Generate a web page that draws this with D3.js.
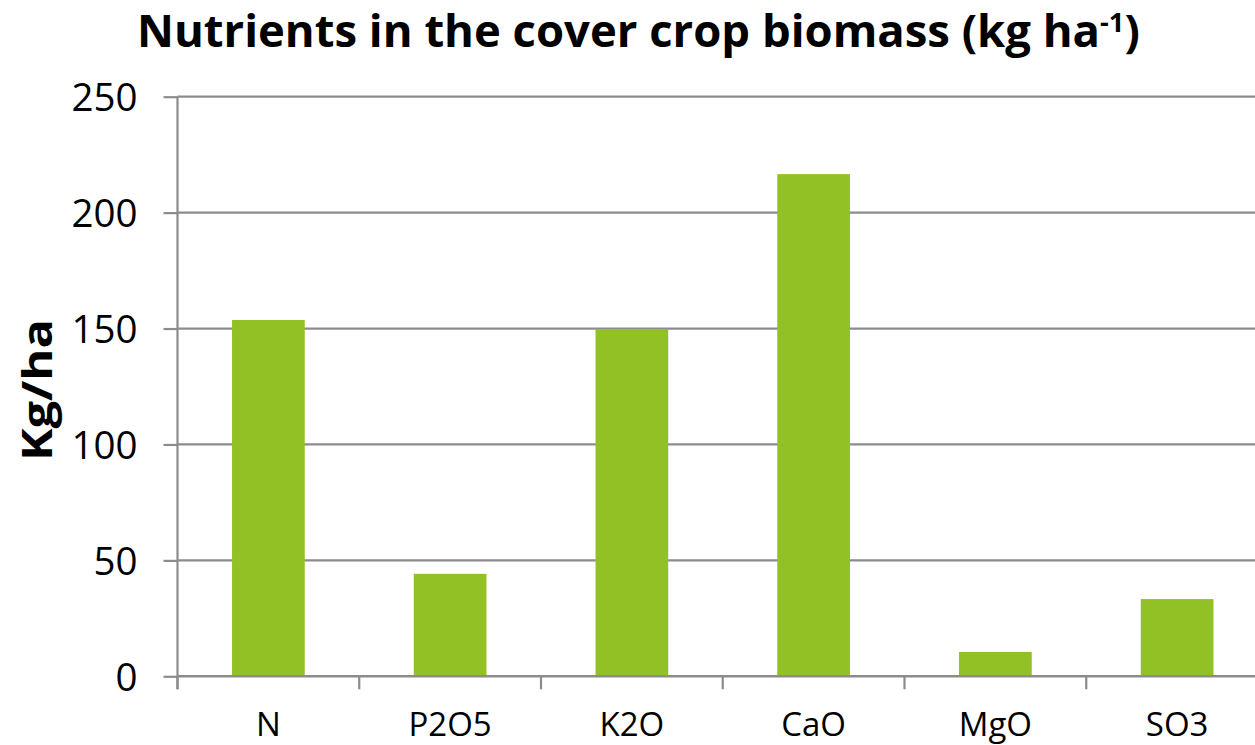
<!DOCTYPE html>
<html><head><meta charset="utf-8">
<script src="https://cdn.jsdelivr.net/npm/d3@7/dist/d3.min.js"></script>
<style>body{margin:0;background:#fff;overflow:hidden}svg{display:block}</style>
</head><body>
<svg id="c" width="1255" height="745"></svg>
<script>
const categories = ["N","P2O5","K2O","CaO","MgO","SO3"];
const values = [153.7, 44.2, 149.8, 216.6, 10.5, 33.3];
const yTicks = [0,50,100,150,200,250];
const titleParts = ["Nutrients in the cover crop biomass (kg ha", "-1", ")"];
const yTitle = "Kg/ha";

const svg = d3.select("#c");
const pLeft = 177.5, pRight = 1268, pTop = 96.7, pBottom = 676.3;
const font = "'Open Sans', 'Noto Sans', sans-serif";
const gridColor = "#8c8c8c";

const x = d3.scaleBand().domain(categories).range([pLeft, pRight]).paddingInner(0.6).paddingOuter(0.3);
const xb = d3.scaleBand().domain(categories).range([pLeft, pRight]).padding(0);
const y = d3.scaleLinear().domain([0,250]).range([pBottom, pTop]);

// gridlines
svg.append("g").selectAll("line").data(yTicks.filter(d=>d>0)).join("line")
  .attr("x1", pLeft).attr("x2", 1255).attr("y1", d=>y(d)).attr("y2", d=>y(d))
  .attr("stroke", gridColor).attr("stroke-width", 2.2);

// bars
svg.append("g").selectAll("rect").data(values).join("rect")
  .attr("x", (d,i)=>x(categories[i])).attr("width", x.bandwidth())
  .attr("y", d=>y(d)).attr("height", d=>pBottom - y(d))
  .attr("fill", "#92c126");

// y axis
const yAxis = d3.axisLeft(y).tickValues(yTicks).tickSize(14).tickPadding(26).tickFormat(d3.format("d"));
const ya = svg.append("g").attr("transform", `translate(${pLeft},0)`).call(yAxis);
ya.select(".domain").remove();
ya.append("line").attr("x1",0).attr("x2",0).attr("y1",pTop).attr("y2",pBottom+13).attr("stroke",gridColor).attr("stroke-width",2.2);
ya.selectAll(".tick line").attr("stroke", gridColor).attr("stroke-width", 2.2);
ya.selectAll(".tick text").attr("font-family", font).attr("font-size", 38.5).attr("fill","#000").attr("dy","0.36em");

// x axis
const xa = svg.append("g").attr("transform", `translate(0,${pBottom})`);
xa.append("line").attr("x1", pLeft).attr("x2", 1255).attr("y1",0).attr("y2",0).attr("stroke",gridColor).attr("stroke-width",2.4);
const bounds = categories.map(c=>xb(c)).concat([xb(categories[categories.length-1])+xb.bandwidth()]).filter(v=>v<=1255);
xa.selectAll("line.t").data(bounds).join("line").attr("class","t")
  .attr("x1",d=>d).attr("x2",d=>d).attr("y1",0).attr("y2",13).attr("stroke",gridColor).attr("stroke-width",2.2);
xa.selectAll("text").data(categories).join("text")
  .attr("x", d=>x(d)+x.bandwidth()/2).attr("y", 60)
  .attr("text-anchor","middle").attr("font-family", font).attr("font-size", 33).attr("fill","#000").text(d=>d);

// title: three separate texts (main, superscript, closing paren), sized to the reference width
const baseY = 47;
const tg = svg.append("g");
const mk = (txt, size) => tg.append("text").attr("y", baseY).attr("font-family", font)
  .attr("font-weight","bold").attr("font-size", size).attr("fill","#000").text(txt);
const tMain = mk(titleParts[0], 40), tSup = mk(titleParts[1], 24), tEnd = mk(titleParts[2], 40);
const total = tMain.node().getComputedTextLength() + tSup.node().getComputedTextLength() + tEnd.node().getComputedTextLength();
const k = 1003 / total;
tMain.attr("font-size", 40*k); tSup.attr("font-size", 24*k).attr("y", baseY - 13*k); tEnd.attr("font-size", 40*k);
let cx = 137;
tMain.attr("x", cx); cx += tMain.node().getComputedTextLength();
tSup.attr("x", cx); cx += tSup.node().getComputedTextLength();
tEnd.attr("x", cx);

// y title
svg.append("text").attr("transform", "translate(52,390) rotate(-90)")
  .attr("text-anchor","middle").attr("font-family", font).attr("font-weight","bold")
  .attr("font-size", 42).attr("fill","#000")
  .attr("textLength", 142).attr("lengthAdjust","spacingAndGlyphs").text(yTitle);
</script>
</body></html>
